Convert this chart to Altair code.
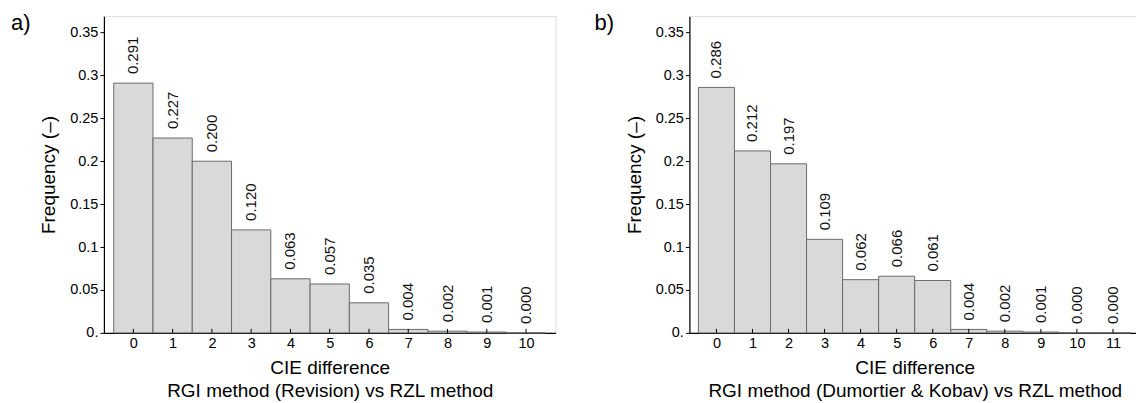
import altair as alt
import pandas as pd

FONT = "Liberation Sans"

# Frequency of each CIE difference class, per method comparison
cie_a = list(range(11))
freq_a = [0.291, 0.227, 0.200, 0.120, 0.063, 0.057, 0.035, 0.004, 0.002, 0.001, 0.000]

cie_b = list(range(12))
freq_b = [0.286, 0.212, 0.197, 0.109, 0.062, 0.066, 0.061, 0.004, 0.002, 0.001, 0.000, 0.000]

y_ticks = [0, 0.05, 0.1, 0.15, 0.2, 0.25, 0.3, 0.35]

title_a = ["CIE difference", "RGI method (Revision) vs RZL method"]
title_b = ["CIE difference", "RGI method (Dumortier & Kobav) vs RZL method"]

PLOT_H = 317


def panel(cie, freq, xtitle, letter, width, xmax, letter_x):
    df = pd.DataFrame({"cie": cie, "freq": freq})
    df["lo"] = df["cie"] - 0.5
    df["hi"] = df["cie"] + 0.5
    df["label"] = [f"{v:.3f}" for v in freq]

    xscale = alt.Scale(domain=[-0.75, xmax], nice=False, zero=False)
    yscale = alt.Scale(domain=[0, 0.369], nice=False, zero=False)

    base = alt.Chart(df)

    bars = base.mark_bar(fill="#d9d9d9", stroke="#6a6a6a", strokeWidth=1).encode(
        x=alt.X(
            "lo:Q",
            scale=xscale,
            axis=alt.Axis(
                values=cie,
                format="d",
                title=xtitle,
                titleFont=FONT,
                titleFontSize=19,
                titleFontWeight="normal",
                titleColor="black",
                titlePadding=8,
                titleLineHeight=23,
                labelFont=FONT,
                labelFontSize=14.5,
                labelColor="black",
                labelPadding=4,
                labelFlush=False,
                ticks=False,
                domainColor="black",
                domainWidth=1.2,
                grid=False,
            ),
        ),
        x2="hi:Q",
        y=alt.Y(
            "freq:Q",
            scale=yscale,
            stack=None,
            axis=alt.Axis(
                values=y_ticks,
                format="~g",
                labelExpr="datum.value === 0 ? '0.' : datum.label",
                title="Frequency (\u2013)",
                titleFont=FONT,
                titleFontSize=19,
                titleFontWeight="normal",
                titleColor="black",
                titlePadding=11,
                labelFont=FONT,
                labelFontSize=14.5,
                labelColor="black",
                labelPadding=2,
                tickSize=4,
                tickColor="black",
                domainColor="black",
                domainWidth=1.2,
                grid=False,
            ),
        ),
        y2=alt.datum(0),
    )

    # inward x ticks drawn over the bars
    ticks = base.mark_rule(color="black", strokeWidth=1).encode(
        x="cie:Q",
        y=alt.value(PLOT_H),
        y2=alt.value(PLOT_H - 4),
    )

    labels = base.mark_text(
        angle=270,
        align="left",
        baseline="middle",
        dx=9,
        font=FONT,
        fontSize=15,
        color="#111111",
    ).encode(x="cie:Q", y="freq:Q", text="label:N")

    tag = alt.Chart(alt.Data(values=[{"t": letter}])).mark_text(
        align="left",
        baseline="top",
        font=FONT,
        fontSize=22,
        color="black",
        x=letter_x,
        y=-3,
    ).encode(text="t:N")

    return alt.layer(bars, ticks, labels, tag).properties(width=width, height=PLOT_H)


left = panel(cie_a, freq_a, title_a, "a)", 452, 10.75, -93)
right = panel(cie_b, freq_b, title_b, "b)", 451, 11.75, -95)

chart = (
    alt.hconcat(left, right, spacing=134, bounds="flush")
    .properties(padding={"left": 10, "top": 11, "right": -5, "bottom": 0})
    .configure_view(stroke="black", strokeWidth=1.5)
    .configure(background="white")
)

chart.save("out.html", embed_options={"renderer": "svg", "actions": False})
